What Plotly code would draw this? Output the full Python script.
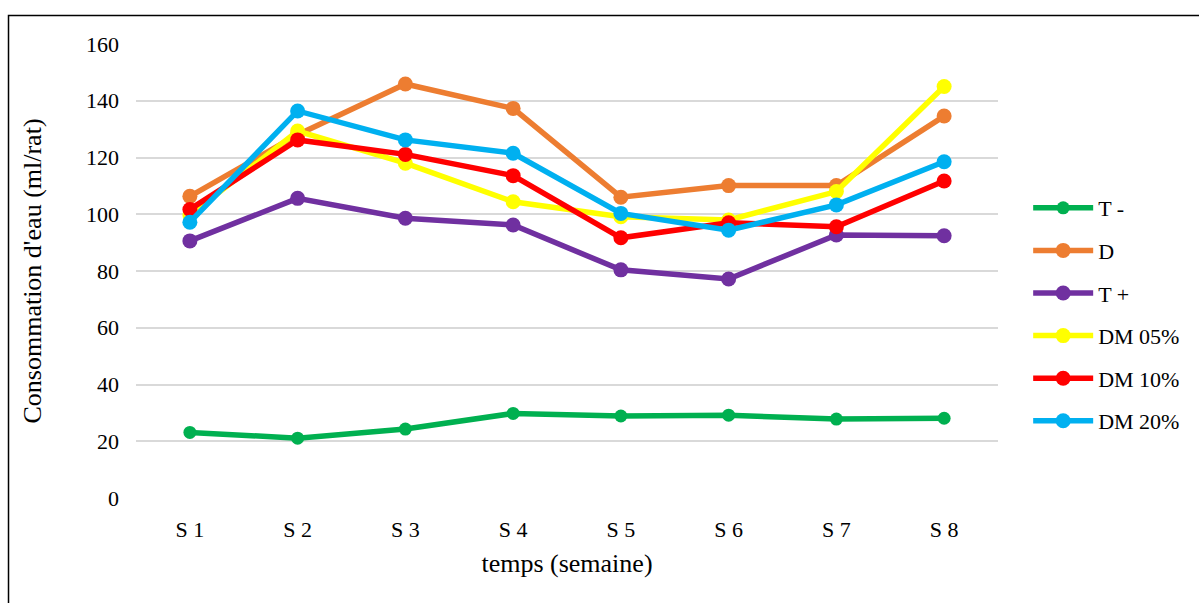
import plotly.graph_objects as go

weeks = ["S 1", "S 2", "S 3", "S 4", "S 5", "S 6", "S 7", "S 8"]
t_minus = [23.1, 21.1, 24.3, 29.8, 28.9, 29.2, 27.8, 28.1]
d = [106.3, 128.0, 145.9, 137.3, 106.0, 110.1, 110.1, 134.6]
t_plus = [90.6, 105.6, 98.6, 96.2, 80.4, 77.2, 92.7, 92.4]
dm05 = [99.7, 129.3, 118.0, 104.4, 99.1, 98.0, 108.0, 145.0]
dm10 = [101.7, 126.2, 121.1, 113.6, 91.7, 97.0, 95.6, 111.7]
dm20 = [97.2, 136.4, 126.2, 121.5, 100.3, 94.4, 103.3, 118.5]

series = [
    ("T -", t_minus, "#00B050"),
    ("D", d, "#ED7D31"),
    ("T +", t_plus, "#7030A0"),
    ("DM 05%", dm05, "#FFFF00"),
    ("DM 10%", dm10, "#FF0000"),
    ("DM 20%", dm20, "#00B0F0"),
]

fig = go.Figure()
for i, (name, vals, col) in enumerate(series):
    fig.add_trace(go.Scatter(
        x=weeks, y=vals, name=name, mode="lines+markers",
        line=dict(color=col, width=5.5),
        marker=dict(color=col, size=15 if i > 0 else 13),
        legendgroup=f"g{i}",
    ))

font = "Liberation Serif, Times New Roman, serif"
fig.update_layout(
    width=1199, height=603,
    margin=dict(l=136, r=201, t=44, b=105),
    paper_bgcolor="white", plot_bgcolor="white",
    font=dict(family=font, size=22, color="black"),
    showlegend=True,
    legend=dict(x=1.035, y=0.685, xanchor="left", yanchor="top",
                font=dict(family=font, size=22, color="black"),
                tracegroupgap=11, itemwidth=60,
                bgcolor="rgba(0,0,0,0)"),
    xaxis=dict(range=[-0.5, 7.5], showgrid=False, showline=False, zeroline=False,
               ticks="", ticklabelstandoff=16,
               title=dict(text="temps (semaine)", standoff=12),
               tickfont=dict(size=22)),
    yaxis=dict(range=[0, 160], dtick=20, showgrid=True, gridcolor="#D9D9D9",
               gridwidth=1.5, zeroline=False, showline=False, ticks="",
               ticklabelstandoff=16,
               title=dict(text="Consommation d'eau (ml/rat)", standoff=36),
               tickfont=dict(size=22)),
    shapes=[dict(type="rect", xref="paper", yref="paper",
                 x0=-0.1479, x1=2.0, y0=-2.0, y1=1.0628,
                 line=dict(color="black", width=1.5), layer="below")],
)

fig.write_html("out.html")
